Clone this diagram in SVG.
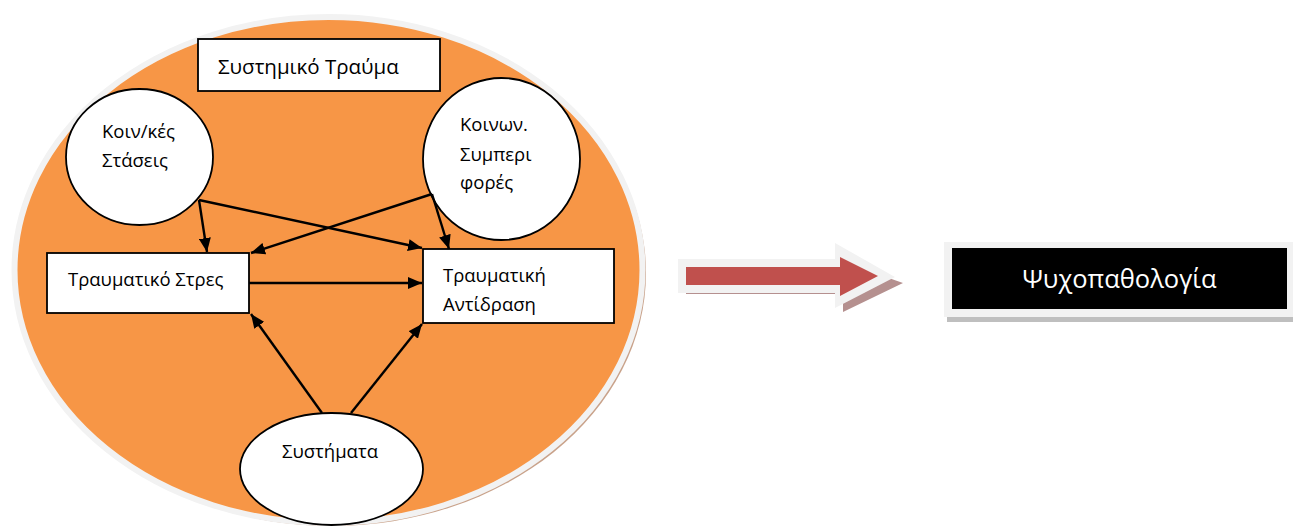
<svg xmlns="http://www.w3.org/2000/svg" width="1295" height="530" viewBox="0 0 1295 530">
  <style>
    .lbl { font-family: "Open Sans", "Noto Sans", sans-serif; font-size: 18.5px; fill: #000; }
    .title { font-size: 20.5px; }
    .node { fill: #fff; stroke: #000; stroke-width: 1.8; }
    .conn { stroke: #000; stroke-width: 2.4; fill: none; marker-end: url(#head); }
  </style>
  <defs>
    <marker id="head" viewBox="0 0 14 12" refX="14" refY="6" markerWidth="14" markerHeight="12" markerUnits="userSpaceOnUse" orient="auto">
      <path d="M0,0 L14,6 L0,12 Z" fill="#000"/>
    </marker>
  </defs>
  <rect width="1295" height="530" fill="#fff"/>

  <!-- outer system ellipse with soft shadow -->
  <g id="system">
    <ellipse cx="332" cy="273" rx="314" ry="253" fill="#C9A28A"/>
    <ellipse cx="328.5" cy="270" rx="314" ry="253" fill="#F79646" stroke="#F2F2F2" stroke-width="6"/>
  </g>

  <g id="n-trauma">
    <rect class="node" x="198" y="39" width="242" height="52"/>
    <text class="lbl title" x="218" y="74">Συστημικό Τραύμα</text>
  </g>

  <g id="n-attitudes">
    <ellipse class="node" cx="139.5" cy="157" rx="73.5" ry="68"/>
    <text class="lbl" x="102" y="138">Κοιν/κές</text>
    <text class="lbl" x="102" y="167">Στάσεις</text>
  </g>

  <g id="n-behaviours">
    <ellipse class="node" cx="501.5" cy="159" rx="78.5" ry="81"/>
    <text class="lbl" x="460" y="131">Κοινων.</text>
    <text class="lbl" x="460" y="161">Συμπερι</text>
    <text class="lbl" x="460" y="189">φορές</text>
  </g>

  <g id="n-stress">
    <rect class="node" x="47" y="253" width="202" height="60"/>
    <text class="lbl" x="68" y="286">Τραυματικό Στρες</text>
  </g>

  <g id="n-reaction">
    <rect class="node" x="423" y="249" width="191" height="74"/>
    <text class="lbl" x="443" y="282">Τραυματική</text>
    <text class="lbl" x="443" y="311">Αντίδραση</text>
  </g>

  <g id="n-systems">
    <ellipse class="node" cx="331.5" cy="469" rx="91.5" ry="56"/>
    <text class="lbl" x="282" y="458">Συστήματα</text>
  </g>

  <g id="connectors">
    <line class="conn" x1="199" y1="200" x2="207" y2="252"/>
    <line class="conn" x1="199" y1="200" x2="422" y2="248"/>
    <line class="conn" x1="432" y1="194" x2="251" y2="253"/>
    <line class="conn" x1="432" y1="194" x2="449" y2="249"/>
    <line class="conn" x1="249" y1="283" x2="422" y2="283"/>
    <line class="conn" x1="322" y1="413" x2="251" y2="314"/>
    <line class="conn" x1="351" y1="413" x2="422" y2="324"/>
  </g>

  <!-- block arrow -->
  <g id="big-arrow">
    <path d="M686,294 L843,294 L843,312 L903,283 L843,262 L843,273 L686,273 Z" fill="#B5908F"/>
    <path d="M678,259 L835,259 L835,243 L895,277 L835,308 L835,293 L678,293 Z" fill="#F2F2F2"/>
    <path d="M686,267 L840,267 L840,257 L878,276 L840,296 L840,285 L686,285 Z" fill="#C0504D"/>
  </g>

  <g id="n-psychopathology">
    <rect x="947" y="247" width="346" height="75" fill="#BFBFBF"/>
    <rect x="944" y="242" width="349" height="75" fill="#F2F2F2"/>
    <rect x="952" y="248" width="335" height="61" fill="#000"/>
    <text x="1119.5" y="288" text-anchor="middle" font-family="Open Sans, Noto Sans, sans-serif" font-size="25.5" fill="#fff">Ψυχοπαθολογία</text>
  </g>
</svg>
